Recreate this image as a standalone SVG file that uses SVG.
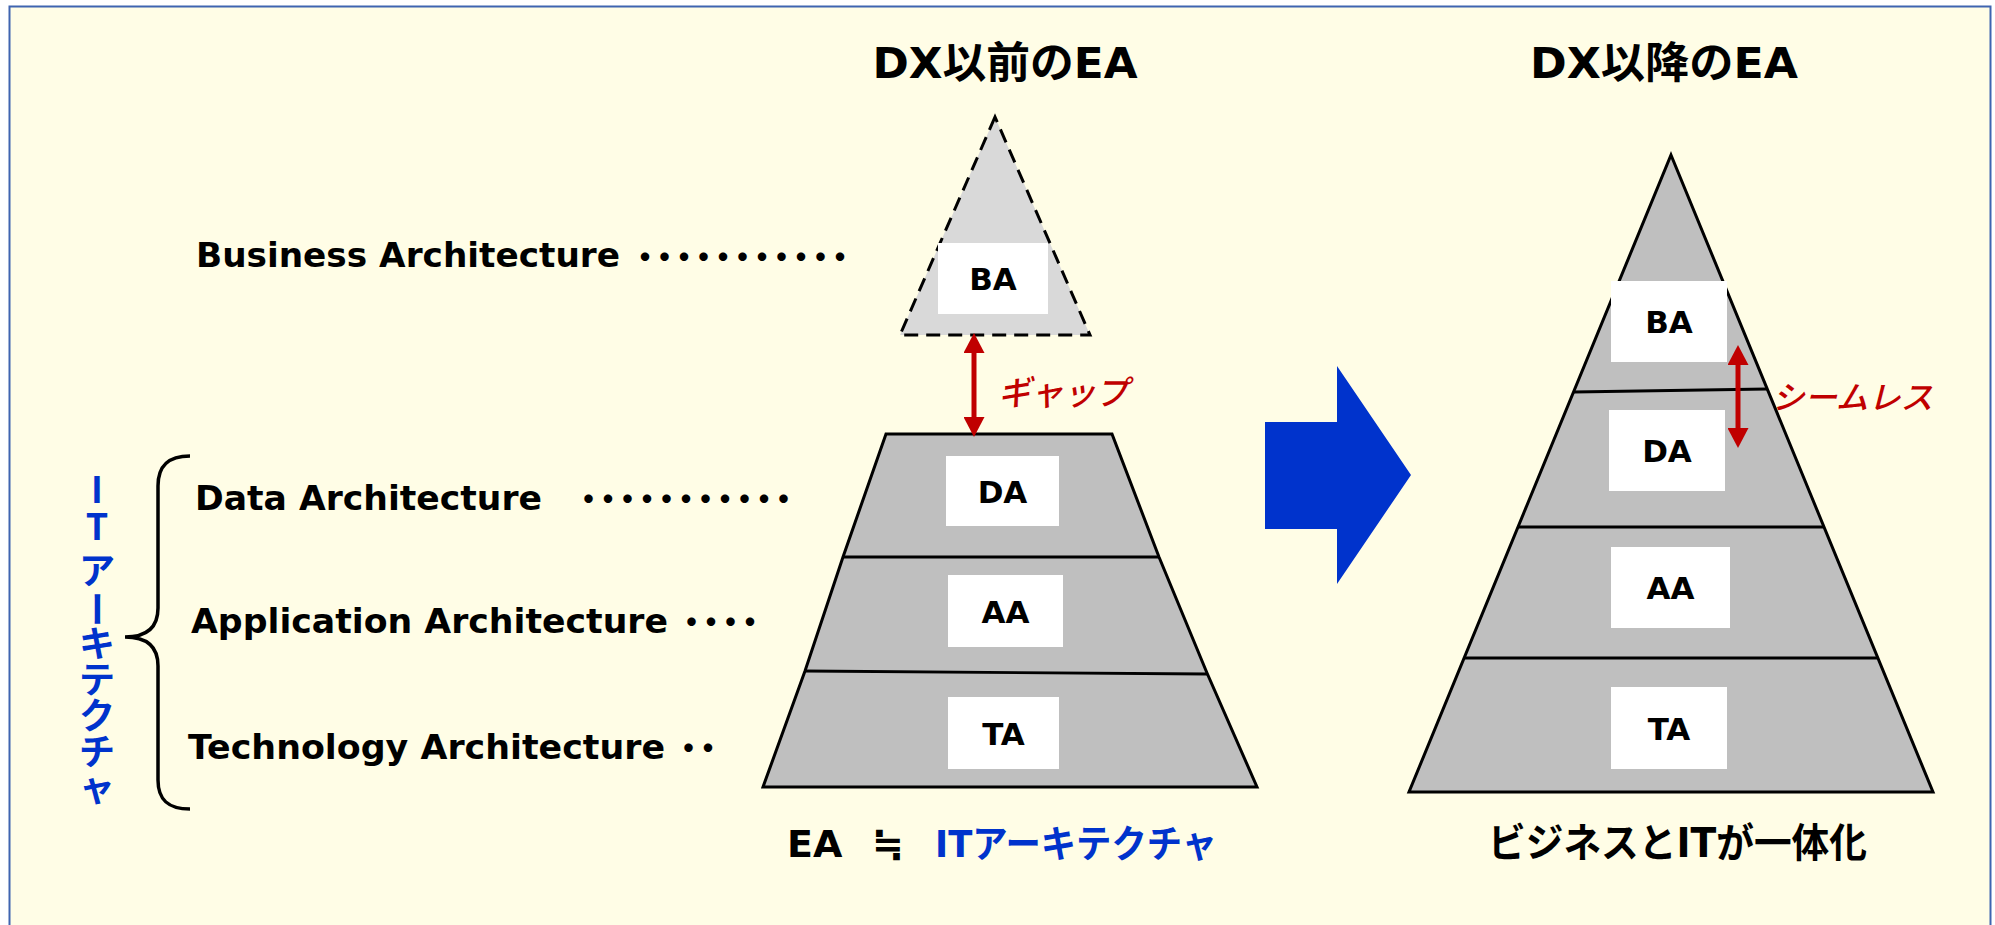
<svg xmlns="http://www.w3.org/2000/svg" width="1995" height="925" viewBox="0 0 1995 925">
<defs>
<style>
.bg{fill:#FFFDE6;stroke:#3F64B0;stroke-width:2}
.t{font-family:"DejaVu Sans","Noto Sans CJK JP",sans-serif;font-weight:bold;fill:#000}
.lbl{font-family:"DejaVu Sans","Noto Sans CJK JP",sans-serif;font-weight:bold;font-size:33.8px;fill:#000}
.dots{font-family:"Noto Sans CJK JP",sans-serif;font-weight:bold;font-size:33px;fill:#000;letter-spacing:-13.5px}
.box{fill:#FFFFFF}
.bt{font-family:"DejaVu Sans",sans-serif;font-weight:bold;font-size:31px;fill:#000;text-anchor:middle}
.layer{fill:#BFBFBF;stroke:#000;stroke-width:3;stroke-linejoin:miter}
.sep{stroke:#000;stroke-width:2.8;fill:none}
.red{font-family:"Noto Sans CJK JP",sans-serif;font-style:italic;font-weight:500;fill:#C00000}
.blue{fill:#0033CC}
.redline{stroke:#C00000;stroke-width:5;fill:none;marker-start:url(#ah);marker-end:url(#ah)}
</style>
<marker id="ah" viewBox="0 0 20 21" refX="10" refY="10.5" markerWidth="20" markerHeight="21" markerUnits="userSpaceOnUse" orient="auto-start-reverse">
<path d="M0,0 L20,10.5 L0,21 Z" fill="#C00000"/>
</marker>
</defs>

<rect class="bg" x="9.5" y="6.5" width="1981" height="940"/>

<g id="title-before">
<text class="t" x="1005" y="78" font-size="43" text-anchor="middle" textLength="265" lengthAdjust="spacingAndGlyphs">DX以前のEA</text>
</g>
<g id="title-after">
<text class="t" x="1664" y="78" font-size="43" text-anchor="middle" textLength="268" lengthAdjust="spacingAndGlyphs">DX以降のEA</text>
</g>

<g id="label-business">
<text class="lbl" x="196" y="267" textLength="424" lengthAdjust="spacingAndGlyphs">Business Architecture</text>
<text class="dots" x="628.5" y="268.5">・・・・・・・・・・・</text>
</g>
<g id="label-data">
<text class="lbl" x="195" y="510" textLength="347" lengthAdjust="spacingAndGlyphs">Data Architecture</text>
<text class="dots" x="572" y="510.5">・・・・・・・・・・・</text>
</g>
<g id="label-application">
<text class="lbl" x="191" y="633" textLength="477" lengthAdjust="spacingAndGlyphs">Application Architecture</text>
<text class="dots" x="675" y="634">・・・・</text>
</g>
<g id="label-technology">
<text class="lbl" x="188" y="759" textLength="477" lengthAdjust="spacingAndGlyphs">Technology Architecture</text>
<text class="dots" x="672" y="760">・・</text>
</g>

<g id="it-brace">
<path d="M190,456 C168,456 158,466 158,486 L158,608 C158,628 146,637 125,637 C146,637 158,646 158,666 L158,780 C158,800 168,809 190,809" fill="none" stroke="#000" stroke-width="3.5"/>
<text x="97 97 97 101 97 97 97 97 97" y="503 540 584 591 656.5 692.7 728.9 765 801" rotate="0 0 0 90 0 0 0 0 0" text-anchor="middle" font-family="'Noto Sans CJK JP',sans-serif" font-weight="bold" font-size="36" class="blue">ITアーキテクチャ</text>
</g>

<g id="ba-before">
<polygon points="995,117 900,335 1090,335" fill="#D9D9D9" stroke="#000" stroke-width="3" stroke-dasharray="14,8" stroke-linejoin="miter"/>
<rect class="box" x="938" y="243" width="110" height="71"/>
<text class="bt" x="993" y="290">BA</text>
</g>

<g id="it-before">
<polygon class="layer" points="886,434 1112,434 1159,557 1207,673 1257,787 763,787 805,671 843,557"/>
<line class="sep" x1="843" y1="557" x2="1159" y2="557"/>
<line class="sep" x1="805" y1="671" x2="1207" y2="674"/>
</g>
<g id="da-before">
<rect class="box" x="946" y="456" width="113" height="70"/>
<text class="bt" x="1002.5" y="502.5">DA</text>
</g>
<g id="aa-before">
<rect class="box" x="948" y="575" width="115" height="72"/>
<text class="bt" x="1005.5" y="622.5">AA</text>
</g>
<g id="ta-before">
<rect class="box" x="948" y="697" width="111" height="72"/>
<text class="bt" x="1003.5" y="744.5">TA</text>
</g>

<g id="pyramid-after">
<polygon class="layer" points="1671,155 1933,792 1409,792"/>
<line class="sep" x1="1574" y1="392" x2="1767" y2="389"/>
<line class="sep" x1="1518" y1="527" x2="1823" y2="527"/>
<line class="sep" x1="1464" y1="658" x2="1877" y2="658"/>
</g>
<g id="ba-after">
<rect class="box" x="1611" y="281" width="116" height="81"/>
<text class="bt" x="1669" y="333">BA</text>
</g>
<g id="da-after">
<rect class="box" x="1609" y="410" width="116" height="81"/>
<text class="bt" x="1667" y="462">DA</text>
</g>
<g id="aa-after">
<rect class="box" x="1611" y="547" width="119" height="81"/>
<text class="bt" x="1670.5" y="599">AA</text>
</g>
<g id="ta-after">
<rect class="box" x="1611" y="687" width="116" height="82"/>
<text class="bt" x="1669" y="739.5">TA</text>
</g>

<g id="transition-arrow">
<polygon class="blue" points="1265,422 1337,422 1337,366 1411,475 1337,584 1337,529 1265,529"/>
</g>

<g id="connectors">
<line class="redline" x1="974" y1="343" x2="974" y2="427"/>
<line class="redline" x1="1738" y1="355" x2="1738" y2="438"/>
</g>

<g id="gap-label">
<text class="red" x="998" y="405" font-size="34" textLength="130" lengthAdjust="spacingAndGlyphs">ギャップ</text>
</g>
<g id="seamless-label">
<text class="red" x="1772" y="409" font-size="32" textLength="161" lengthAdjust="spacingAndGlyphs">シームレス</text>
</g>

<g id="caption-before">
<text class="t" y="857" font-size="38"><tspan x="787">EA</tspan><tspan x="872">≒</tspan><tspan x="935" class="blue" textLength="282" lengthAdjust="spacingAndGlyphs">ITアーキテクチャ</tspan></text>
</g>
<g id="caption-after">
<text class="t" x="1488" y="857" font-size="40" textLength="379" lengthAdjust="spacingAndGlyphs">ビジネスとITが一体化</text>
</g>
</svg>
